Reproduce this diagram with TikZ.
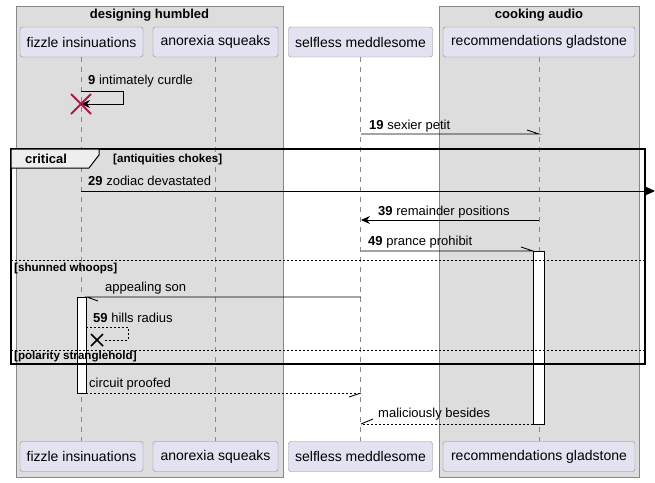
\documentclass[tikz,border=0pt]{standalone}
\usepackage{fontspec}
\setmainfont{Liberation Sans}
\usepackage{xcolor}
\usepackage{tikz}
\usetikzlibrary{arrows.meta}
\definecolor{grpfill}{HTML}{DDDDDD}
\definecolor{grpline}{HTML}{888888}
\definecolor{partfill}{HTML}{E2E2F0}
\definecolor{partline}{HTML}{8A8A8A}
\definecolor{killred}{HTML}{B0154A}
\definecolor{tabfill}{HTML}{EEEEEE}
\newcommand{\msgfont}{\fontsize{13}{15}\selectfont}
\newcommand{\partfont}{\fontsize{14}{16}\selectfont}
\newcommand{\condfont}{\fontsize{11.6}{13}\selectfont\bfseries}

\begin{document}
\begin{tikzpicture}[x=1pt,y=-1pt,
	grp/.style={draw=grpline,fill=grpfill,line width=1pt},
	grptitle/.style={font=\fontsize{13}{15}\selectfont\bfseries,inner sep=0pt},
	part/.style={draw=partline,fill=partfill,rounded corners=2.5pt,minimum height=30pt,font=\partfont,inner sep=0pt},
	lifeline/.style={draw=grpline,dash pattern=on 5pt off 5pt,line width=.8pt},
	msg/.style={font=\msgfont,anchor=west,inner sep=0pt},
	cond/.style={font=\condfont,anchor=west,inner sep=0pt},
	call/.style={draw=black,line width=.9pt},
	reply/.style={draw=black,line width=.9pt,dash pattern=on 2pt off 2pt},
	activ/.style={draw=black,fill=white,line width=1pt},
	tip/.style={-{Stealth[length=9pt,width=8pt,inset=3pt]}},
	sep/.style={draw=black,line width=.8pt,dash pattern=on 2pt off 2pt}]
	\useasboundingbox (0,0) rectangle (655,482);

	%% groups
	\draw[grp] (16,6) rectangle (283,477);
	\draw[grp] (439,6) rectangle (639,477);
	\node[grptitle] (gDesign) at (149.5,15) {designing humbled};
	\node[grptitle] (gCook) at (539,15) {cooking audio};

	%% participants
	\node[part, minimum width=123pt] (fizT) at (81.5,42) {fizzle insinuations};
	\node[part, minimum width=125pt] (anoT) at (215.5,42) {anorexia squeaks};
	\node[part, minimum width=144pt] (selT) at (360.5,42) {selfless meddlesome};
	\node[part, minimum width=192pt] (recT) at (539,42) {recommendations gladstone};
	\node[part, minimum width=123pt] (fizB) at (81.5,456.5) {fizzle insinuations};
	\node[part, minimum width=125pt] (anoB) at (215.5,456.5) {anorexia squeaks};
	\node[part, minimum width=144pt] (selB) at (360.5,456.5) {selfless meddlesome};
	\node[part, minimum width=192pt] (recB) at (539,456.5) {recommendations gladstone};

	%% lifelines
	\draw[lifeline] (fizT.south) -- (fizB.north);
	\draw[lifeline] (anoT.south) -- (anoB.north);
	\draw[lifeline] (selT.south) -- (selB.north);
	\draw[lifeline] (recT.south) -- (recB.north);

	%% activations
	\draw[activ] (533,251) rectangle (544,424);
	\draw[activ] (77,297) rectangle (86,393);

	%% critical frame
	\draw[line width=1.6pt] (11,149) rectangle (645,364);
	\draw[line width=1pt,fill=tabfill] (11,149) -- (99,149) -- (99,155) -- (89,168) -- (11,168) -- cycle;
	\node[font=\msgfont\bfseries,inner sep=0pt] (tCrit) at (46,159) {critical};
	\node[cond] (cAnt) at (113,159) {[antiquities chokes]};
	\draw[sep] (11,260) -- (645,260);
	\node[cond] (cShun) at (14,268) {[shunned whoops]};
	\draw[sep] (11,350) -- (645,350);
	\node[cond] (cPol) at (14,357) {[polarity stranglehold]};

	%% message ends
	\coordinate (a9) at (81,91);
	\coordinate (b9) at (81,104);
	\coordinate (a19) at (361,134);
	\coordinate (b19) at (539,134);
	\coordinate (a29) at (81,191);
	\coordinate (b29) at (655,191);
	\coordinate (a39) at (539,220);
	\coordinate (b39) at (361,220);
	\coordinate (a49) at (361,251);
	\coordinate (b49) at (533,251);
	\coordinate (aSon) at (361,297);
	\coordinate (bSon) at (87,297);
	\coordinate (a59) at (86,327);
	\coordinate (b59) at (97,340);
	\coordinate (aCirc) at (86,393);
	\coordinate (bCirc) at (361,393);
	\coordinate (aMal) at (533,424);
	\coordinate (bMal) at (361,424);

	%% labels
	\node[msg] (l9) at (88,81) {\textbf{9} intimately curdle};
	\node[msg] (l19) at (369,126) {\textbf{19} sexier petit};
	\node[msg] (l29) at (88,181) {\textbf{29} zodiac devastated};
	\node[msg] (l39) at (378,212) {\textbf{39} remainder positions};
	\node[msg] (l49) at (368,242) {\textbf{49} prance prohibit};
	\node[msg] (lSon) at (105,288) {appealing son};
	\node[msg] (l59) at (93,318) {\textbf{59} hills radius};
	\node[msg] (lCirc) at (89,384) {circuit proofed};
	\node[msg] (lMal) at (378,414) {maliciously besides};

	%% lines
	\draw[call,tip] (a9) -- ++(42,0) -- ++(0,13) -- (b9);
	\draw[killred,line width=2pt] (b9) ++(-10,-10) -- ++(20,20) (b9) ++(10,-10) -- ++(-20,20);
	\draw[call] (a19) -- (b19) -- ++(-12,-4);
	\draw[call,-{Triangle[length=10pt,width=9pt]}] (a29) -- (b29);
	\draw[call,tip] (a39) -- (b39);
	\draw[call] (a49) -- (b49) -- ++(-12,-4);
	\draw[call] (aSon) -- (bSon) -- ++(11,4);
	\draw[reply] (a59) -- ++(42,0) -- ++(0,13) -- ++(-25,0);
	\draw[black,line width=1.6pt] (b59) ++(-6,-6) -- ++(12,12) (b59) ++(6,-6) -- ++(-12,12);
	\draw[reply] (aCirc) -- (bCirc);
	\draw[call] (bCirc) -- ++(-12,4);
	\draw[reply] (aMal) -- (bMal);
	\draw[call] (bMal) -- ++(12,-5);
\end{tikzpicture}
\end{document}
